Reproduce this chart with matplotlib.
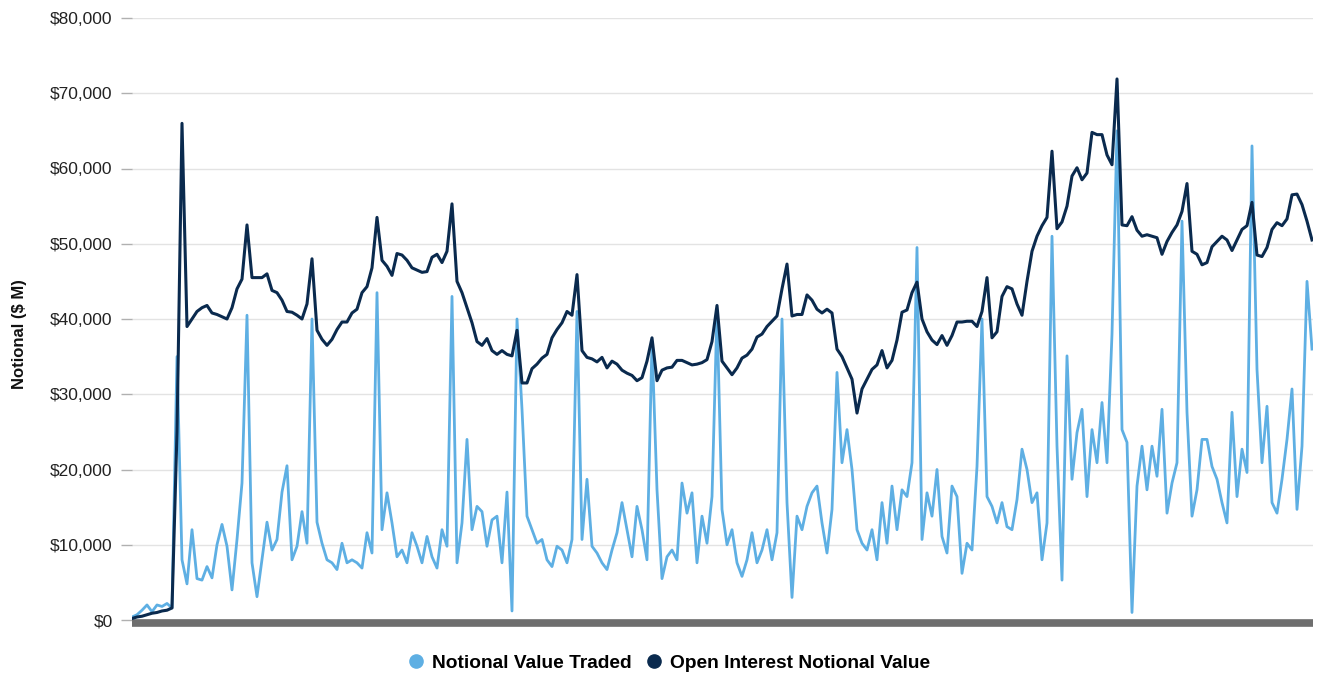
import numpy as np
import matplotlib
matplotlib.use("Agg")
import matplotlib.pyplot as plt
from matplotlib.ticker import FuncFormatter
from matplotlib.lines import Line2D
from matplotlib import font_manager

# valores en $ miles de millones (k de $ M)
open_interest = [
    0.2, 0.4, 0.5, 0.7, 0.9, 1.0, 1.2, 1.3, 1.6,
    25, 66, 39, 40, 41, 41.5, 41.8, 40.8, 40.6, 40.3, 40,
    41.5, 44, 45.3, 52.5, 45.5, 45.5, 45.5, 46, 43.8, 43.5,
    42.5, 41, 40.9, 40.5, 40, 42, 48, 38.5, 37.3, 36.5,
    37.3, 38.6, 39.6, 39.6, 40.8, 41.3, 43.5, 44.3, 46.8, 53.5,
    47.8, 47, 45.8, 48.7, 48.5, 47.8, 46.8, 46.5, 46.2, 46.3,
    48.2, 48.6, 47.5, 49, 55.3, 45, 43.5, 41.5, 39.5, 37,
    36.5, 37.4, 35.8, 35.3, 35.8, 35.3, 35.1, 38.5, 31.5, 31.5,
    33.4, 34, 34.8, 35.3, 37.5, 38.6, 39.5, 41, 40.5, 45.9,
    35.8, 34.9, 34.7, 34.3, 34.9, 33.5, 34.4, 34, 33.2, 32.8,
    32.5, 31.8, 32.2, 34.4, 37.5, 31.8, 33.2, 33.5, 33.6, 34.5,
    34.5, 34.2, 33.9, 34, 34.2, 34.6, 37, 41.8, 34.4, 33.5,
    32.6, 33.5, 34.8, 35.2, 36, 37.6, 38, 39, 39.7, 40.4,
    44, 47.3, 40.4, 40.6, 40.6, 43.2, 42.5, 41.3, 40.8, 41.3,
    40.8, 36, 35, 33.5, 32, 27.5, 30.7, 32, 33.3, 33.9,
    35.8, 33.5, 34.5, 37.2, 40.9, 41.2, 43.5, 44.9, 40, 38.3,
    37.2, 36.6, 37.8, 36.5, 37.8, 39.6, 39.6, 39.7, 39.7, 39,
    41, 45.5, 37.5, 38.3, 43, 44.3, 44, 42, 40.5, 45,
    49, 51, 52.4, 53.5, 62.3, 52, 52.9, 55, 59, 60.1,
    58.5, 59.4, 64.8, 64.5, 64.5, 61.8, 60.5, 71.9, 52.5, 52.4,
    53.6, 51.8, 51, 51.2, 51, 50.8, 48.6, 50.3, 51.5, 52.5,
    54.3, 58, 49, 48.6, 47.2, 47.5, 49.6, 50.3, 51, 50.5,
    49.1, 50.5, 51.9, 52.4, 55.5, 48.5, 48.3, 49.5, 51.9, 52.8,
    52.4, 53.3, 56.5, 56.6, 55.2, 53, 50.5,
]

traded = [
    0.4, 0.7, 1.3, 2.0, 1.1, 2.0, 1.8, 2.2, 1.6,
    35, 8, 4.8, 12, 5.5, 5.3, 7.1, 5.6, 10, 12.7, 9.8,
    4, 10.7, 18.2, 40.5, 7.6, 3.1, 8, 13, 9.3, 10.7,
    17, 20.5, 8, 9.8, 14.4, 10.2, 40, 13, 10.2, 8,
    7.6, 6.7, 10.2, 7.6, 8, 7.6, 6.9, 11.6, 8.9, 43.5,
    12, 16.9, 12.9, 8.4, 9.3, 7.6, 11.6, 9.8, 7.6, 11.1,
    8.4, 6.9, 12, 9.8, 43, 7.6, 12.9, 24, 12, 15.1,
    14.4, 9.8, 13.3, 13.8, 7.6, 17, 1.2, 40, 28, 13.8,
    12, 10.2, 10.7, 8, 7.1, 9.8, 9.3, 7.6, 10.7, 41,
    10.7, 18.7, 9.8, 8.9, 7.6, 6.7, 9.3, 11.6, 15.6, 12,
    8.4, 15.1, 12, 8, 37, 17.3, 5.5, 8.4, 9.3, 8,
    18.2, 14.2, 16.9, 7.6, 13.8, 10.2, 16.4, 41, 14.7, 10,
    12, 7.6, 5.8, 8, 11.6, 7.6, 9.3, 12, 8, 11.6,
    40, 15.6, 3, 13.8, 12, 15.1, 16.9, 17.8, 12.9, 8.9,
    14.7, 32.9, 20.9, 25.3, 20, 12, 10.2, 9.3, 12, 8,
    15.6, 10.2, 17.8, 12, 17.3, 16.4, 20.9, 49.5, 10.7, 16.9,
    13.8, 20, 11.1, 8.9, 17.8, 16.4, 6.2, 10.2, 9.3, 20.4,
    40, 16.4, 15.1, 12.9, 15.6, 12.4, 12, 16, 22.7, 20,
    15.6, 16.9, 8, 12.9, 51, 23.1, 5.3, 35.1, 18.7, 24.9,
    28, 16.4, 25.3, 20.9, 28.9, 20.9, 38, 65, 25.3, 23.6,
    1, 17.8, 23.1, 17.3, 23.1, 19.1, 28, 14.2, 18.2, 20.9,
    53, 27.6, 13.8, 17.3, 24, 24, 20.4, 18.7, 15.6, 12.9,
    27.6, 16.4, 22.7, 19.6, 63, 33.3, 20.9, 28.4, 15.6, 14.2,
    18.7, 24, 30.7, 14.7, 23.1, 45, 36,
]

y_ticks = [0, 10000, 20000, 30000, 40000, 50000, 60000, 70000, 80000]
series_names = ['Notional Value Traded', 'Open Interest Notional Value']

color_traded = '#5eafe3'
color_oi = '#0a2a4e'

# fuentes
nombres = {f.name for f in font_manager.fontManager.ttflist}
fuente = 'Liberation Sans' if 'Liberation Sans' in nombres else 'DejaVu Sans'
hay_narrow = 'Liberation Sans Narrow' in nombres
fuente_narrow = 'Liberation Sans Narrow' if hay_narrow else fuente

dias = np.arange(len(traded))
oi = np.array(open_interest) * 1000
tr = np.array(traded) * 1000

fig = plt.figure(figsize=(13.18, 6.75), dpi=100)
ax = fig.add_axes([132 / 1318, 1 - 620 / 675, (1313 - 132) / 1318, 602 / 675])

ax.plot(dias, tr, color=color_traded, linewidth=2.0, zorder=3, solid_joinstyle='round')
ax.plot(dias, oi, color=color_oi, linewidth=2.2, zorder=4, solid_joinstyle='round')

ax.set_xlim(0, len(dias) - 0.8)
ax.set_ylim(0, 80000)
ax.set_yticks(y_ticks)
ax.yaxis.set_major_formatter(FuncFormatter(lambda v, p: '${:,.0f}'.format(v)))
ax.set_xticks([])

ax.grid(axis='y', color='#e3e3e3', linewidth=1)
ax.set_axisbelow(True)
for lado in ['top', 'right', 'left']:
    ax.spines[lado].set_visible(False)
ax.spines['bottom'].set_color('#6e6e6e')
ax.spines['bottom'].set_linewidth(5.5)
ax.spines['bottom'].set_capstyle('butt')
ax.spines['bottom'].set_position(('outward', 2.5))
ax.spines['bottom'].set_zorder(2)

ax.tick_params(axis='y', length=8, width=1, color='#b0b0b0', pad=6,
               labelsize=12.5, labelcolor='#222222')
for t in ax.get_yticklabels():
    t.set_fontfamily(fuente)

ax.set_ylabel('Notional ($ M)', fontsize=13 if hay_narrow else 12, fontweight='bold',
              fontfamily=fuente_narrow, color='#111111')
ax.yaxis.set_label_coords(-0.089, 0.475)

handles = [Line2D([], [], linestyle='none', marker='o', markersize=9.5,
                  markerfacecolor=c, markeredgecolor=c)
           for c in [color_traded, color_oi]]
fig.legend(handles, series_names, loc='center', bbox_to_anchor=(0.507, 0.018),
           ncol=2, frameon=False, handletextpad=0.3, columnspacing=0.7,
           handlelength=1.0, prop={'family': fuente, 'weight': 'bold', 'size': 13.8})

fig.savefig('out.png', dpi=100)
